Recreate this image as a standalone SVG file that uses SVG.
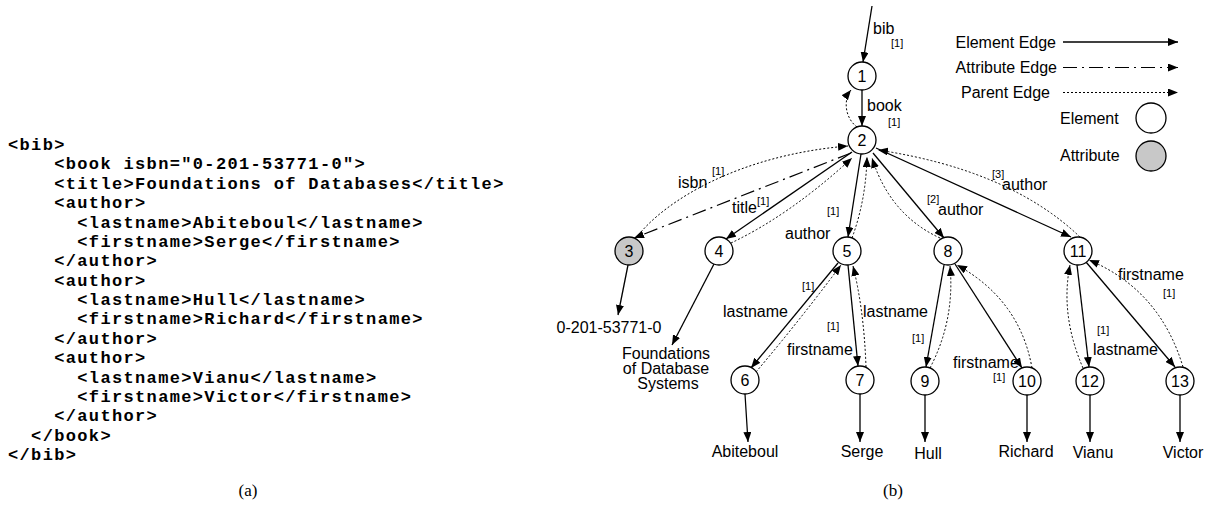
<svg xmlns="http://www.w3.org/2000/svg" width="1206" height="527" viewBox="0 0 1206 527">
<style>
.code{font-family:"Liberation Mono","Courier New",monospace;font-weight:bold;font-size:17px;letter-spacing:1.35px;fill:#000}
.lbl{font-family:"Liberation Sans",Arial,sans-serif;font-size:16px;fill:#000}
.sm{font-family:"Liberation Sans",Arial,sans-serif;font-size:11px;fill:#000}
.num{font-family:"Liberation Sans",Arial,sans-serif;font-size:16px;fill:#000;text-anchor:middle}
.leaf{font-family:"Liberation Sans",Arial,sans-serif;font-size:16px;fill:#000;text-anchor:middle}
.cap{font-family:"Liberation Serif","Times New Roman",serif;font-size:17px;fill:#000;text-anchor:middle}
.nd{fill:#fff;stroke:#000;stroke-width:1.3}
.ndg{fill:#c8c8c8;stroke:#000;stroke-width:1.3}
.el{fill:none;stroke:#000;stroke-width:1.3;marker-end:url(#arr)}
.at{fill:none;stroke:#000;stroke-width:1.2;stroke-dasharray:14 5 2 5;marker-end:url(#arr)}
.pa{fill:none;stroke:#000;stroke-width:1;stroke-dasharray:2 2;marker-end:url(#arr)}
</style>
<defs>
<marker id="arr" viewBox="0 0 10 8" refX="10" refY="4" markerWidth="10" markerHeight="8" markerUnits="userSpaceOnUse" orient="auto"><path d="M0,0 L10,4 L0,8 z" fill="#000"/></marker>
</defs>
<rect width="1206" height="527" fill="#fff"/>

<g id="code">
<text class="code" x="8" y="150">&lt;bib&gt;</text>
<text class="code" x="54.2" y="169.4">&lt;book isbn="0-201-53771-0"&gt;</text>
<text class="code" x="54.2" y="188.8">&lt;title&gt;Foundations of Databases&lt;/title&gt;</text>
<text class="code" x="54.2" y="208.1">&lt;author&gt;</text>
<text class="code" x="77.3" y="227.5">&lt;lastname&gt;Abiteboul&lt;/lastname&gt;</text>
<text class="code" x="77.3" y="246.9">&lt;firstname&gt;Serge&lt;/firstname&gt;</text>
<text class="code" x="54.2" y="266.3">&lt;/author&gt;</text>
<text class="code" x="54.2" y="285.6">&lt;author&gt;</text>
<text class="code" x="77.3" y="305">&lt;lastname&gt;Hull&lt;/lastname&gt;</text>
<text class="code" x="77.3" y="324.4">&lt;firstname&gt;Richard&lt;/firstname&gt;</text>
<text class="code" x="54.2" y="343.8">&lt;/author&gt;</text>
<text class="code" x="54.2" y="363.1">&lt;author&gt;</text>
<text class="code" x="77.3" y="382.5">&lt;lastname&gt;Vianu&lt;/lastname&gt;</text>
<text class="code" x="77.3" y="401.9">&lt;firstname&gt;Victor&lt;/firstname&gt;</text>
<text class="code" x="54.2" y="421.3">&lt;/author&gt;</text>
<text class="code" x="31.1" y="440.6">&lt;/book&gt;</text>
<text class="code" x="8" y="460">&lt;/bib&gt;</text>
</g>

<g id="connectors">
<!-- element edges -->
<path class="el" d="M872,6 L863,62"/>
<path class="el" d="M862,90 L862,126"/>
<path class="el" d="M852,152 L726,239"/>
<path class="el" d="M861,154 L848,237"/>
<path class="el" d="M873,153 L944,238"/>
<path class="el" d="M876,148 L1071,237"/>
<path class="el" d="M838,263 L751,368"/>
<path class="el" d="M848,265 L858,366"/>
<path class="el" d="M944,265 L926,367"/>
<path class="el" d="M955,264 L1022,368"/>
<path class="el" d="M1077,265 L1089,367"/>
<path class="el" d="M1086,262 L1175,367"/>
<path class="el" d="M628,265 L618,315"/>
<path class="el" d="M714,264 L672,345"/>
<path class="el" d="M745,394 L748,442"/>
<path class="el" d="M860,394 L860,442"/>
<path class="el" d="M925,395 L925,442"/>
<path class="el" d="M1027,395 L1027,442"/>
<path class="el" d="M1090,395 L1090,442"/>
<path class="el" d="M1180,395 L1180,442"/>
<!-- attribute edge -->
<path class="at" d="M851,153 L634,238"/>
<!-- parent edges -->
<path class="pa" d="M857,127 C845,118 843,100 851,90"/>
<path class="pa" d="M636,238 C665,200 740,155 848,146"/>
<path class="pa" d="M731,243 Q790,215 852,158"/>
<path class="pa" d="M852,238 Q866,200 867,157"/>
<path class="pa" d="M940,238 Q890,215 872,158"/>
<path class="pa" d="M1080,237 Q1010,170 878,150"/>
<path class="pa" d="M756,372 Q800,320 841,265"/>
<path class="pa" d="M866,367 Q864,310 853,266"/>
<path class="pa" d="M930,368 Q955,320 950,266"/>
<path class="pa" d="M1032,368 Q1020,300 957,265"/>
<path class="pa" d="M1083,368 Q1060,315 1070,265"/>
<path class="pa" d="M1183,367 Q1160,290 1089,260"/>
</g>

<g id="edge-labels">
<text class="lbl" x="873" y="34">bib</text><text class="sm" x="891" y="47">[1]</text>
<text class="lbl" x="867" y="111">book</text><text class="sm" x="888" y="126">[1]</text>
<text class="lbl" x="678" y="188">isbn</text><text class="sm" x="712" y="175">[1]</text>
<text class="lbl" x="732" y="213">title</text><text class="sm" x="757" y="205">[1]</text>
<text class="lbl" x="785" y="239">author</text><text class="sm" x="827" y="215">[1]</text>
<text class="sm" x="927" y="203">[2]</text><text class="lbl" x="938" y="215">author</text>
<text class="sm" x="992" y="178">[3]</text><text class="lbl" x="1002" y="190">author</text>
<text class="sm" x="802" y="290">[1]</text><text class="lbl" x="723" y="317">lastname</text>
<text class="sm" x="827" y="330">[1]</text><text class="lbl" x="787" y="355">firstname</text>
<text class="lbl" x="863" y="317">lastname</text><text class="sm" x="912" y="342">[1]</text>
<text class="lbl" x="953" y="368">firstname</text><text class="sm" x="993" y="381">[1]</text>
<text class="lbl" x="1118" y="280">firstname</text><text class="sm" x="1163" y="297">[1]</text>
<text class="sm" x="1097" y="334">[1]</text><text class="lbl" x="1093" y="355">lastname</text>
</g>

<g id="node1"><circle class="nd" cx="862" cy="76" r="14"/><text class="num" x="862" y="82">1</text></g>
<g id="node2"><circle class="nd" cx="862" cy="140" r="14"/><text class="num" x="862" y="146">2</text></g>
<g id="node3"><circle class="ndg" cx="629" cy="251" r="14"/><text class="num" x="629" y="257">3</text></g>
<g id="node4"><circle class="nd" cx="719" cy="251" r="14"/><text class="num" x="719" y="257">4</text></g>
<g id="node5"><circle class="nd" cx="847" cy="251" r="14"/><text class="num" x="847" y="257">5</text></g>
<g id="node8"><circle class="nd" cx="948" cy="251" r="14"/><text class="num" x="948" y="257">8</text></g>
<g id="node11"><circle class="nd" cx="1078" cy="251" r="14"/><text class="num" x="1078" y="257">11</text></g>
<g id="node6"><circle class="nd" cx="745" cy="380" r="14"/><text class="num" x="745" y="386">6</text></g>
<g id="node7"><circle class="nd" cx="860" cy="380" r="14"/><text class="num" x="860" y="386">7</text></g>
<g id="node9"><circle class="nd" cx="925" cy="381" r="14"/><text class="num" x="925" y="387">9</text></g>
<g id="node10"><circle class="nd" cx="1027" cy="381" r="14"/><text class="num" x="1027" y="387">10</text></g>
<g id="node12"><circle class="nd" cx="1090" cy="381" r="14"/><text class="num" x="1090" y="387">12</text></g>
<g id="node13"><circle class="nd" cx="1180" cy="381" r="14"/><text class="num" x="1180" y="387">13</text></g>

<g id="leaf-isbn"><text class="leaf" x="609" y="333">0-201-53771-0</text></g>
<g id="leaf-title"><text class="leaf" x="666" y="359">Foundations</text><text class="leaf" x="666" y="374">of Database</text><text class="leaf" x="668" y="389">Systems</text></g>
<g id="leaf-abiteboul"><text class="leaf" x="745" y="457">Abiteboul</text></g>
<g id="leaf-serge"><text class="leaf" x="862" y="457">Serge</text></g>
<g id="leaf-hull"><text class="leaf" x="928" y="459">Hull</text></g>
<g id="leaf-richard"><text class="leaf" x="1026" y="457">Richard</text></g>
<g id="leaf-vianu"><text class="leaf" x="1093" y="458">Vianu</text></g>
<g id="leaf-victor"><text class="leaf" x="1183" y="458">Victor</text></g>

<g id="legend">
<text class="lbl" x="1056" y="48" text-anchor="end">Element Edge</text>
<path class="el" d="M1063,42 L1178,42"/>
<text class="lbl" x="1057" y="73" text-anchor="end">Attribute Edge</text>
<path class="at" d="M1063,67.5 L1178,67.5"/>
<text class="lbl" x="1050" y="98" text-anchor="end">Parent Edge</text>
<path class="pa" d="M1063,92.5 L1178,92.5"/>
<text class="lbl" x="1060" y="124">Element</text>
<circle class="nd" cx="1151" cy="118" r="15"/>
<text class="lbl" x="1060" y="161">Attribute</text>
<circle class="ndg" cx="1151" cy="156" r="15"/>
</g>

<g id="captions">
<text class="cap" x="248" y="496">(a)</text>
<text class="cap" x="893" y="496">(b)</text>
</g>
</svg>
